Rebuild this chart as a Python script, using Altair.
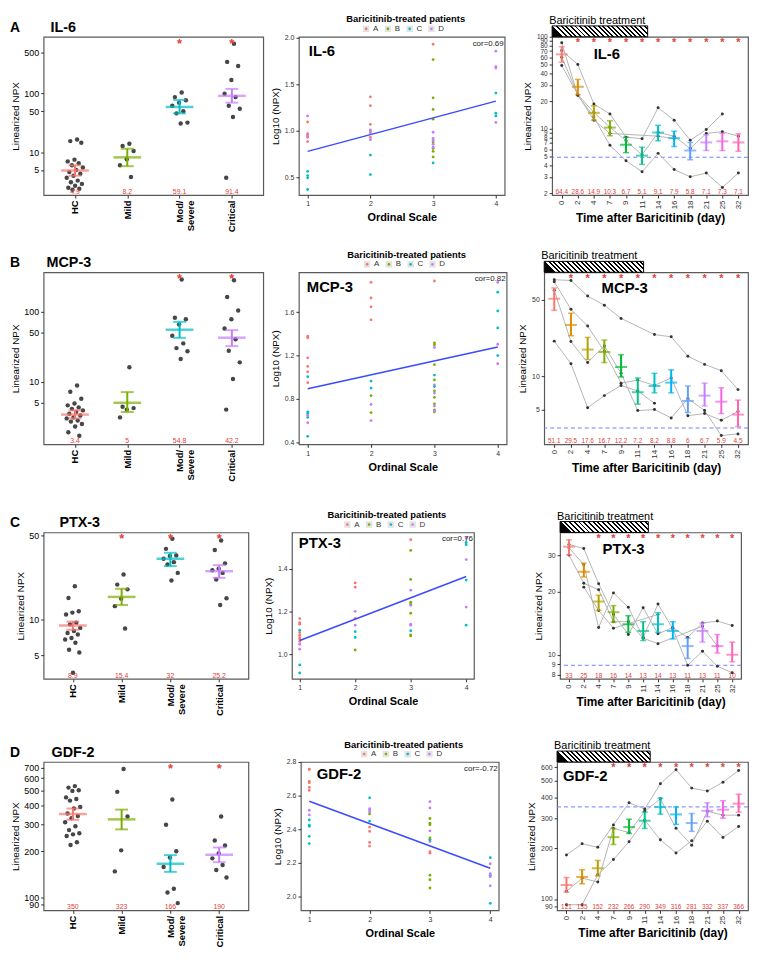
import altair as alt
import pandas as pd

FONT = "Liberation Sans"
RED = "#E2403C"

# ---------------- categories / palettes ----------------
GROUPS = ["HC", "Mild", "Mod/Severe", "Critical"]
GROUP_COLORS = ["#F8766D", "#7CAE00", "#00BFC4", "#C77CFF"]
PATIENTS = ["A", "B", "C", "D"]
PT_COLORS = ["#F8766D", "#7CAE00", "#00BFC4", "#C77CFF"]
DAYS = [0, 2, 4, 7, 9, 11, 14, 16, 18, 21, 25, 32]
DAY_COLORS = ["#F8766D", "#DE8C00", "#B79F00", "#7CAE00", "#00BA38", "#00C08B",
              "#00BFC4", "#00B4F0", "#619CFF", "#C77CFF", "#F564E3", "#FF64B0"]
TREAT_END = 5.35  # treatment bar ends between day 11 and day 14

# ---------------- IL-6 ----------------
IL6_HC = [16.5, 15.5, 14.5, 7.5, 7.0, 6.5, 6.0, 5.5, 5.0, 4.6, 4.3, 4.0, 3.7, 3.3, 3.1, 2.9, 2.7, 2.5, 2.4, 2.3]
IL6_MILD = [14.0, 12.8, 10.5, 7.6, 6.0, 3.8]
IL6_MODSEV = [104, 87, 77, 70, 62, 50, 46, 32, 31]
IL6_CRIT = [705, 346, 295, 170, 99, 87, 62, 55, 40, 3.7]
IL6_GRP_MEAN = [4.9, 8.2, 59.1, 91.4]
IL6_GRP_LO = [4.0, 5.8, 46, 70]
IL6_GRP_HI = [6.0, 11.5, 78, 120]
IL6_GRP_STAR = [False, False, True, True]
IL6_GRP_TICKS = [5, 10, 50, 100, 500]
IL6_GRP_DOMAIN = [1.87, 925]

IL6_SCATTER = [
    (1, "A", 1.095), (1, "A", 0.97), (1, "A", 0.955), (1, "A", 0.93), (1, "A", 0.885),
    (1, "D", 1.16), (1, "D", 0.94), (1, "C", 0.565), (1, "C", 0.52), (1, "C", 0.495), (1, "C", 0.37),
    (2, "A", 1.365), (2, "A", 1.27), (2, "A", 1.07), (2, "A", 0.93), (2, "B", 1.0),
    (2, "D", 1.01), (2, "D", 0.98), (2, "D", 0.905), (2, "C", 0.74), (2, "C", 0.53),
    (3, "A", 1.93), (3, "B", 1.765), (3, "B", 1.355), (3, "B", 1.23), (3, "B", 1.125), (3, "B", 0.875),
    (3, "B", 0.81), (3, "B", 0.78), (3, "B", 0.72), (3, "D", 0.985), (3, "D", 0.92), (3, "D", 0.9),
    (3, "D", 0.855), (3, "D", 0.825), (3, "C", 0.655),
    (4, "D", 1.855), (4, "D", 1.69), (4, "D", 1.675), (4, "D", 1.09),
    (4, "C", 1.405), (4, "C", 1.19), (4, "C", 1.16),
]
IL6_COR = "0.69"
IL6_SC_DOMAIN = [0.31, 2.01]
IL6_SC_TICKS = [0.5, 1.0, 1.5, 2.0]

IL6_TC_MEAN = [64.4, 28.6, 14.9, 10.3, 6.7, 5.1, 9.1, 7.9, 5.8, 7.1, 7.3, 7.1]
IL6_TC_LO = [53, 23.5, 12.4, 8.4, 5.5, 4.1, 7.4, 6.4, 4.6, 5.8, 5.8, 5.7]
IL6_TC_HI = [78, 34.4, 17.8, 12.2, 8.1, 6.3, 10.9, 9.4, 7.1, 8.6, 8.9, 8.8]
IL6_TC_P1 = [86, 23, 13.4, 6.6, 4.5, 3.4, 5.4, 3.6, 3.0, 3.3, 2.3, 3.3]
IL6_TC_P2 = [71, 50, 18.6, 14.5, 8.1, 7.8, 16.9, 12.4, 7.5, 9.8, 14.5, None]
IL6_TC_P3 = [60, 23.5, 15, 10.4, 7.4, 5.2, 9.1, 8.3, 6.1, 8.9, 9.3, 8.3]
IL6_TC_P4 = [48.6, 23.5, 12.4, 8.9, None, None, 8.3, 7.8, None, None, None, None]
IL6_TC_STAR_FROM = 1
IL6_HC_REF = 4.9
IL6_TC_TICKS = [2, 3, 4, 5, 6, 7, 8, 9, 10, 20, 30, 40, 50, 60, 70, 80, 90, 100]
IL6_TC_DOMAIN = [1.9, 100]

# ---------------- MCP-3 ----------------
MCP3_HC = [8.8, 7.2, 5.7, 4.9, 4.6, 4.3, 4.1, 3.9, 3.7, 3.5, 3.3, 3.1, 3.0, 2.8, 2.7, 2.5, 2.3, 1.9, 1.7]
MCP3_MILD = [16, 4.4, 4.2, 4.0, 3.1]
MCP3_MODSEV = [284, 81, 77, 65, 45, 35, 30, 27, 21]
MCP3_CRIT = [277, 160, 103, 77, 57, 40, 27.5, 18.8, 10.9, 4.0]
MCP3_GRP_MEAN = [3.4, 5, 54.8, 42.2]
MCP3_GRP_LO = [3.0, 3.7, 42, 32]
MCP3_GRP_HI = [3.9, 7.1, 71, 54]
MCP3_GRP_STAR = [False, False, True, True]
MCP3_GRP_TICKS = [5, 10, 50, 100]
MCP3_GRP_DOMAIN = [1.28, 360]

MCP3_SCATTER = [
    (1, "A", 1.38), (1, "A", 1.365), (1, "A", 1.18), (1, "A", 1.10), (1, "A", 1.05), (1, "A", 0.95),
    (1, "C", 1.005), (1, "C", 0.68), (1, "C", 0.665), (1, "C", 0.63), (1, "C", 0.455),
    (1, "D", 0.65), (1, "D", 0.58),
    (2, "A", 1.877), (2, "A", 1.732), (2, "A", 1.651), (2, "A", 1.531), (2, "C", 0.965), (2, "C", 0.9),
    (2, "B", 0.83), (2, "B", 0.674), (2, "D", 0.749), (2, "D", 0.6),
    (3, "A", 1.889), (3, "B", 1.317), (3, "B", 1.30), (3, "B", 1.116), (3, "B", 0.975), (3, "B", 0.875),
    (3, "B", 0.815), (3, "B", 0.755), (3, "B", 0.698), (3, "B", 0.68), (3, "D", 1.275), (3, "D", 0.93),
    (3, "D", 0.854), (3, "D", 0.734), (3, "D", 0.689), (3, "C", 1.02), (3, "C", 0.914),
    (4, "D", 1.877), (4, "D", 1.305), (4, "D", 1.125),
    (4, "C", 1.786), (4, "C", 1.612), (4, "C", 1.456), (4, "C", 1.2),
]
MCP3_COR = "0.82"
MCP3_SC_DOMAIN = [0.38, 1.97]
MCP3_SC_TICKS = [0.4, 0.8, 1.2, 1.6]

MCP3_TC_MEAN = [51.1, 29.5, 17.6, 16.7, 12.2, 7.2, 8.2, 8.8, 6, 6.7, 5.9, 4.5]
MCP3_TC_LO = [40, 23.5, 14.3, 13.4, 9.9, 5.6, 7.1, 7.1, 4.7, 5.4, 4.6, 3.5]
MCP3_TC_HI = [64, 37.7, 22.7, 21.5, 15.8, 9.7, 10.7, 11.5, 8.2, 8.7, 7.9, 6.1]
MCP3_TC_P1 = [76, 75, 54, 44.6, 33.8, None, 24.1, 23, 15.3, 12.9, 11.3, 7.6]
MCP3_TC_P2 = [72.8, 40.9, 28.8, 16.9, 8.7, 9.3, 8.3, 9.7, 4.4, 4.6, 4.0, 4.8]
MCP3_TC_P3 = [61, 20.8, 13.4, 19, 10.7, 4.9, 5.0, 4.2, 6.3, 4.9, 2.9, 3.0]
MCP3_TC_P4 = [21, 13.1, 5.2, 6.7, 8.3, 7.4, 5.7, None, None, None, None, None]
MCP3_TC_STAR_FROM = 1
MCP3_HC_REF = 3.4
MCP3_TC_TICKS = [5, 10, 50]
MCP3_TC_DOMAIN = [2.41, 89]

# ---------------- PTX-3 ----------------
PTX3_HC = [18.9, 15.1, 11.7, 11.4, 11.0, 9.4, 9.1, 8.5, 8.0, 7.7, 7.5, 7.0, 6.8, 6.4, 5.6, 5.3, 3.6]
PTX3_MILD = [23.7, 19.5, 17.8, 14.9, 12.9, 8.4]
PTX3_MODSEV = [46.9, 38.7, 34.1, 33.7, 32, 30, 28.7, 24.4, 21.1]
PTX3_CRIT = [45.4, 37.8, 29.3, 26.4, 25.7, 24.4, 21.5, 15, 13.2]
PTX3_GRP_MEAN = [8.9, 15.4, 32, 25.2]
PTX3_GRP_LO = [8.2, 13.2, 27.8, 22.2]
PTX3_GRP_HI = [9.6, 18, 35.9, 28.3]
PTX3_GRP_STAR = [False, True, True, True]
PTX3_GRP_TICKS = [5, 10, 50]
PTX3_GRP_DOMAIN = [3.2, 53]

PTX3_SCATTER = [
    (1, "A", 1.166), (1, "A", 1.147), (1, "A", 1.14), (1, "A", 1.101), (1, "A", 1.088), (1, "A", 1.077),
    (1, "A", 1.07), (1, "A", 1.059), (1, "C", 1.112), (1, "C", 0.949), (1, "C", 0.912),
    (1, "D", 1.046), (1, "D", 1.023),
    (2, "A", 1.333), (2, "A", 1.313), (2, "A", 1.167), (2, "D", 1.2), (2, "D", 1.135),
    (2, "C", 1.105), (2, "C", 1.078), (2, "B", 1.019),
    (3, "A", 1.535), (3, "B", 1.485), (3, "B", 1.349), (3, "B", 1.243), (3, "B", 1.233), (3, "B", 1.191),
    (3, "B", 1.09), (3, "B", 1.085), (3, "D", 1.299), (3, "D", 1.228), (3, "D", 1.14), (3, "D", 1.135),
    (3, "C", 1.109),
    (4, "D", 1.543), (4, "D", 1.442), (4, "D", 1.22),
    (4, "C", 1.522), (4, "C", 1.512), (4, "C", 1.346), (4, "C", 1.135),
]
PTX3_COR = "0.76"
PTX3_SC_DOMAIN = [0.884, 1.569]
PTX3_SC_TICKS = [1.0, 1.2, 1.4]

PTX3_TC_MEAN = [33, 25, 18, 16, 14, 13, 14, 13, 11, 13, 11, 10]
PTX3_TC_LO = [30.1, 23.6, 16.3, 14.3, 12.8, 11.7, 12.8, 11.9, 9.6, 11.5, 10.2, 9.25]
PTX3_TC_HI = [35.6, 27.5, 19.3, 17.2, 15.4, 14.4, 15.9, 14.4, 12.0, 14.2, 12.5, 11.5]
PTX3_TC_P1 = [33.8, 32.3, 21.9, 15.6, 12.5, 16.8, 12.6, 13.5, 12.1, 14.2, 14.5, 13.8]
PTX3_TC_P2 = [32.6, 27, 13.5, 19.8, 16.9, 12.1, 17.5, 13.3, 8.9, 10.4, 8.8, 8.2]
PTX3_TC_P3 = [30.1, 22, 20.5, 14.4, 14.4, 12, 11.3, None, None, 13.7, 11.0, None]
PTX3_TC_P4 = [None, 21.1, 16.3, 13.4, None, None, 15.6, None, None, None, None, None]
PTX3_TC_STAR_FROM = 2
PTX3_HC_REF = 8.9
PTX3_TC_TICKS = [8, 9, 10, 20, 30]
PTX3_TC_DOMAIN = [7.66, 38.6]

# ---------------- GDF-2 ----------------
GDF2_HC = [532, 520, 500, 495, 449, 438, 428, 389, 380, 353, 340, 329, 309, 291, 275, 262, 258, 252, 229, 220]
GDF2_MILD = [687, 488, 337, 203, 148]
GDF2_MODSEV = [435, 298, 200, 182, 158, 114, 108, 92]
GDF2_CRIT = [337, 235, 218, 194, 180, 163, 151, 135]
GDF2_GRP_MEAN = [350, 323, 166, 190]
GDF2_GRP_LO = [321, 278, 147, 170]
GDF2_GRP_HI = [380, 374, 189, 212]
GDF2_GRP_STAR = [False, False, True, True]
GDF2_GRP_TICKS = [90, 100, 200, 300, 400, 500, 600, 700]
GDF2_GRP_DOMAIN = [82.5, 764]

GDF2_SCATTER = [
    (1, "A", 2.758), (1, "A", 2.755), (1, "A", 2.685), (1, "A", 2.676), (1, "A", 2.649), (1, "A", 2.631),
    (1, "D", 2.513), (1, "D", 2.485), (1, "C", 2.455), (1, "C", 2.424), (1, "C", 2.418),
    (1, "C", 2.358), (1, "C", 2.315),
    (2, "C", 2.587), (2, "C", 2.449), (2, "D", 2.522), (2, "D", 2.515), (2, "D", 2.504), (2, "B", 2.491),
    (2, "A", 2.413), (2, "A", 2.387), (2, "A", 2.322), (2, "A", 2.30),
    (3, "D", 2.564), (3, "D", 2.527), (3, "D", 2.391), (3, "D", 2.327), (3, "B", 2.464), (3, "B", 2.436),
    (3, "B", 2.427), (3, "B", 2.349), (3, "B", 2.34), (3, "B", 2.127), (3, "B", 2.10), (3, "B", 2.051),
    (3, "C", 2.336), (3, "A", 2.267), (3, "A", 2.258),
    (4, "C", 2.231), (4, "C", 2.127), (4, "C", 1.96), (4, "D", 2.195), (4, "D", 2.136),
    (4, "D", 2.118), (4, "D", 2.064),
]
GDF2_COR = "-0.72"
GDF2_SC_DOMAIN = [1.918, 2.8]
GDF2_SC_TICKS = [2.0, 2.2, 2.4, 2.6, 2.8]

GDF2_TC_MEAN = [121, 135, 152, 232, 266, 290, 349, 316, 281, 332, 337, 366]
GDF2_TC_LO = [110, 123, 137, 210, 244, 261, 317, 276, 251, 306, 300, 326]
GDF2_TC_HI = [134, 149, 169, 261, 296, 326, 394, 350, 320, 370, 381, 416]
GDF2_TC_P1 = [182, 212, 202, 274, 370, 340, 480, 581, 452, 434, 490, 574]
GDF2_TC_P2 = [111, 133, 126, 261, 247, 330, 391, 262, 208, 330, 313, 313]
GDF2_TC_P3 = [92.5, 92.5, 139, 171, 218, 292, 224, 187, 221, 288, 231, 268]
GDF2_TC_P4 = [None] * 12
GDF2_TC_STAR_FROM = 3
GDF2_HC_REF = 350
GDF2_TC_TICKS = [90, 100, 200, 300, 400, 500, 600]
GDF2_TC_DOMAIN = [85.7, 645]

ONE = pd.DataFrame({"o": [0]})


def note(text, x, y, size, weight="normal", align="left", baseline="middle", color="black"):
    return alt.Chart(ONE).mark_text(
        text=text, fontSize=size, fontWeight=weight, align=align, baseline=baseline,
        color=color, font=FONT
    ).encode(x=alt.value(x), y=alt.value(y))


def frame(W, H, box):
    # invisible box that fixes the panel's layout bounds (left, top, right, bottom margins)
    L, T, R, B = box
    return alt.Chart(ONE).mark_rect(opacity=0).encode(
        x=alt.value(-L), x2=alt.value(W + R), y=alt.value(-T), y2=alt.value(H + B))


def fmt(v):
    return f"{v:g}"


def group_panel(title, letter, groups_pts, mean, lo, hi, stars, domain, ticks, W, H, tdx, box):
    rows = []
    for gi, vals in enumerate(groups_pts):
        for v in vals:
            rows.append({"g": gi, "v": v})
    pts = pd.DataFrame(rows)
    summ = pd.DataFrame({"g": list(range(4)), "grp": GROUPS, "mean": mean, "lo": lo, "hi": hi,
                         "label": [fmt(m) for m in mean], "star": stars})
    xs = alt.Scale(domain=[-0.6, 3.6], nice=False, zero=False)
    ys = alt.Scale(type="log", domain=domain, nice=False)
    lab = "datum.value == 2 ? ['Mod/', 'Severe'] : " + repr(GROUPS) + "[datum.value]"
    xaxis = alt.Axis(values=[0, 1, 2, 3], labelExpr=lab, labelAngle=-90, labelFontSize=9.5,
                     labelFontWeight="bold", labelColor="black", title=None, tickSize=3,
                     labelPadding=2, grid=False, domain=False)
    yaxis = alt.Axis(values=ticks, format="d", title="Linearized NPX", titleFontSize=10,
                     titleFontWeight="normal", labelFontSize=9, labelColor="black", tickSize=3,
                     labelPadding=2, titlePadding=3, grid=False, domain=False, labelOverlap=False)
    color = alt.Color("grp:N", scale=alt.Scale(domain=GROUPS, range=GROUP_COLORS), legend=None)

    def X(f):
        return alt.X(f, scale=xs, axis=xaxis)

    def Y(f):
        return alt.Y(f, scale=ys, axis=yaxis)

    points = alt.Chart(pts).transform_window(
        rank="row_number()", groupby=["g"]
    ).transform_calculate(
        jx="datum.g + ((datum.rank * 0.618034) % 1 - 0.5) * 0.34"
    ).mark_circle(size=20, color="#3c3c3c", opacity=0.95).encode(x=X("jx:Q"), y=Y("v:Q"))
    err = alt.Chart(summ).mark_rule(strokeWidth=2).encode(
        x=X("g:Q"), y=Y("lo:Q"), y2="hi:Q", color=color)
    mean_l = alt.Chart(summ).mark_tick(orient="horizontal", size=28, thickness=2.5).encode(
        x=X("g:Q"), y=Y("mean:Q"), color=color)
    caps = alt.Chart(summ).transform_fold(["lo", "hi"], as_=["k", "cap"]).mark_tick(
        orient="horizontal", size=13, thickness=2).encode(x=X("g:Q"), y=Y("cap:Q"), color=color)
    labels = alt.Chart(summ).mark_text(color=RED, fontSize=7, baseline="alphabetic").encode(
        x=X("g:Q"), y=alt.value(H - 1), text="label:N")
    star = alt.Chart(summ).transform_filter("datum.star").mark_text(
        text="*", color=RED, fontSize=13, fontWeight="bold", baseline="top").encode(
        x=X("g:Q"), y=alt.value(1))
    t1 = note(title, tdx, -5, 14.5, "bold", baseline="alphabetic")
    t2 = note(letter, -34, -5, 14, "bold", baseline="alphabetic")
    return alt.layer(points, err, mean_l, caps, labels, star, t1, t2,
                     frame(W, H, box)).properties(width=W, height=H)


def scatter_panel(title, data, cor, domain, ticks, W, H, tdx, tdy, box):
    df = pd.DataFrame(data, columns=["os", "pt", "lv"])
    xs = alt.Scale(domain=[0.86, 4.14], nice=False, zero=False)
    ys = alt.Scale(domain=domain, nice=False, zero=False)
    xaxis = alt.Axis(values=[1, 2, 3, 4], format="d", title="Ordinal Scale", titleFontSize=11,
                     titleFontWeight="bold", labelFontSize=7, labelColor="#333", tickSize=3,
                     labelPadding=2, titlePadding=5, grid=False, domain=False)
    yaxis = alt.Axis(values=ticks, format=".1f", title="Log10 (NPX)", titleFontSize=10,
                     titleFontWeight="normal", labelFontSize=7, labelColor="#333", tickSize=3,
                     labelPadding=2, titlePadding=4, grid=False, domain=False, labelOverlap=False)
    color = alt.Color("pt:N", scale=alt.Scale(domain=PATIENTS, range=PT_COLORS), legend=None)
    pts = alt.Chart(df).mark_circle(size=8, opacity=1).encode(
        x=alt.X("os:Q", scale=xs, axis=xaxis), y=alt.Y("lv:Q", scale=ys, axis=yaxis), color=color)
    reg = alt.Chart(df).transform_regression("os", "lv").mark_line(
        color="#3A4BFF", strokeWidth=1.5).encode(
        x=alt.X("os:Q", scale=xs, axis=xaxis), y=alt.Y("lv:Q", scale=ys, axis=yaxis))
    leg = pd.DataFrame({"pt": PATIENTS})
    kx = f"{W / 2 - 36} + indexof({PATIENTS!r}, datum.pt) * 22"
    keys = alt.Chart(leg).transform_calculate(kx=kx).mark_square(
        size=42, color="#E3E3E3", opacity=1).encode(x=alt.X("kx:Q", scale=None), y=alt.value(-8))
    kdots = alt.Chart(leg).transform_calculate(kx=kx).mark_circle(size=7, opacity=1).encode(
        x=alt.X("kx:Q", scale=None), y=alt.value(-8), color=color)
    ktext = alt.Chart(leg).transform_calculate(kx=kx + " + 7").mark_text(
        fontSize=8, align="left", baseline="middle", color="#333").encode(
        x=alt.X("kx:Q", scale=None), y=alt.value(-8), text="pt:N")
    ltitle = note("Baricitinib-treated patients", W / 2 + 4, -17.5, 9.5, "bold", align="center")
    t = note(title, tdx, tdy, 15, "bold")
    c = note(f"cor={cor}", W - 1, 7, 8, align="right", color="#222")
    return alt.layer(pts, reg, keys, kdots, ktext, ltitle, t, c,
                     frame(W, H, box)).properties(width=W, height=H)


def tc_panel(title, patients, mean, lo, hi, star_from, ref, domain, ticks, W, H, tdx, tdy, box,
             ylab_size=7):
    rows = []
    for pi, series in enumerate(patients):
        for i, v in enumerate(series):
            if v is not None:
                rows.append({"i": i, "p": pi, "v": v})
    pdf = pd.DataFrame(rows)
    dlab = [str(d) for d in DAYS]
    summ = pd.DataFrame({"i": list(range(12)), "d": dlab, "mean": mean, "lo": lo, "hi": hi,
                         "label": [fmt(m) for m in mean], "star": [i >= star_from for i in range(12)]})
    xs = alt.Scale(domain=[-0.6, 11.6], nice=False, zero=False)
    ys = alt.Scale(type="log", domain=domain, nice=False)
    xaxis = alt.Axis(values=list(range(12)), labelExpr=repr(dlab) + "[datum.value]", labelAngle=-90,
                     labelFontSize=8, labelColor="#333", title="Time after Baricitinib (day)",
                     titleFontSize=12, titleFontWeight="bold", tickSize=3, labelPadding=2,
                     titlePadding=4, grid=False, domain=False)
    yaxis = alt.Axis(values=ticks, format="d", title="Linearized NPX", titleFontSize=10,
                     titleFontWeight="normal", labelFontSize=ylab_size, labelColor="#333", tickSize=3,
                     labelPadding=2, titlePadding=4, grid=False, domain=False, labelOverlap=False)
    color = alt.Color("d:N", scale=alt.Scale(domain=dlab, range=DAY_COLORS), legend=None)

    def X(f):
        return alt.X(f, scale=xs, axis=xaxis)

    def Y(f):
        return alt.Y(f, scale=ys, axis=yaxis)

    refl = alt.Chart(pd.DataFrame({"ref": [ref]})).mark_rule(
        strokeDash=[4, 3], color="#6F7FFF", strokeWidth=1).encode(y=Y("ref:Q"))
    lines = alt.Chart(pdf).mark_line(color="#B5B5B5", strokeWidth=1).encode(
        x=X("i:Q"), y=Y("v:Q"), detail="p:N")
    dots = alt.Chart(pdf).mark_circle(size=9, color="#333", opacity=1).encode(x=X("i:Q"), y=Y("v:Q"))
    err = alt.Chart(summ).mark_rule(strokeWidth=2).encode(
        x=X("i:Q"), y=Y("lo:Q"), y2="hi:Q", color=color)
    mean_l = alt.Chart(summ).mark_tick(orient="horizontal", size=12, thickness=2).encode(
        x=X("i:Q"), y=Y("mean:Q"), color=color)
    caps = alt.Chart(summ).transform_fold(["lo", "hi"], as_=["k", "cap"]).mark_tick(
        orient="horizontal", size=6, thickness=1.5).encode(x=X("i:Q"), y=Y("cap:Q"), color=color)
    labels = alt.Chart(summ).mark_text(color=RED, fontSize=6.5, baseline="alphabetic").encode(
        x=X("i:Q"), y=alt.value(H - 1), text="label:N")
    star = alt.Chart(summ).transform_filter("datum.star").mark_text(
        text="*", color=RED, fontSize=11, fontWeight="bold", baseline="top").encode(
        x=X("i:Q"), y=alt.value(0.5))

    bar_w = (TREAT_END + 0.6) / 12.2 * W
    bar_h = 11.0
    n = max(1, int(round(bar_w / 4.6)))
    stops = []
    for k in range(n):
        a, b, c = k / n, (k + 0.42) / n, (k + 1) / n
        stops += [{"offset": a, "color": "black"}, {"offset": b, "color": "black"},
                  {"offset": b, "color": "white"}, {"offset": c, "color": "white"}]
    grad = {"gradient": "linear", "x1": 0, "y1": bar_h / bar_w, "x2": 1, "y2": 0, "stops": stops}
    hatch = alt.Chart(pd.DataFrame({"s": [-0.6], "e": [TREAT_END]})).mark_rect(
        fill=grad, stroke="black", strokeWidth=1).encode(
        x=X("s:Q"), x2="e:Q", y=alt.value(-bar_h), y2=alt.value(0))
    ttext = note("Baricitinib treatment", -3, -16, 11)
    t = note(title, tdx, tdy, 15, "bold")
    return alt.layer(refl, lines, dots, err, mean_l, caps, labels, star, hatch, ttext, t,
                     frame(W, H, box)).properties(width=W, height=H)


def row(p1, p2, p3):
    return alt.hconcat(p1, p2, p3, spacing=0).resolve_scale(color="independent")


# layout: (left, top, right, bottom) invisible margins for each panel
rowA = row(
    group_panel("IL-6", "A", [IL6_HC, IL6_MILD, IL6_MODSEV, IL6_CRIT], IL6_GRP_MEAN, IL6_GRP_LO,
                IL6_GRP_HI, IL6_GRP_STAR, IL6_GRP_DOMAIN, IL6_GRP_TICKS, 222, 160, 7, (35, 17, 1, 40)),
    scatter_panel("IL-6", IL6_SCATTER, IL6_COR, IL6_SC_DOMAIN, IL6_SC_TICKS, 208, 160, 10, 14,
                  (33, 17, 1, 40)),
    tc_panel("IL-6", [IL6_TC_P1, IL6_TC_P2, IL6_TC_P3, IL6_TC_P4], IL6_TC_MEAN, IL6_TC_LO, IL6_TC_HI,
             IL6_TC_STAR_FROM, IL6_HC_REF, IL6_TC_DOMAIN, IL6_TC_TICKS, 198, 160, 42, 17,
             (45, 17, 1, 40), ylab_size=6.5))

rowB = row(
    group_panel("MCP-3", "B", [MCP3_HC, MCP3_MILD, MCP3_MODSEV, MCP3_CRIT], MCP3_GRP_MEAN, MCP3_GRP_LO,
                MCP3_GRP_HI, MCP3_GRP_STAR, MCP3_GRP_DOMAIN, MCP3_GRP_TICKS, 222, 174, 3, (35, 36, 1, 40)),
    scatter_panel("MCP-3", MCP3_SCATTER, MCP3_COR, MCP3_SC_DOMAIN, MCP3_SC_TICKS, 210, 174, 8, 15,
                  (33, 36, 1, 40)),
    tc_panel("MCP-3", [MCP3_TC_P1, MCP3_TC_P2, MCP3_TC_P3, MCP3_TC_P4], MCP3_TC_MEAN, MCP3_TC_LO,
             MCP3_TC_HI, MCP3_TC_STAR_FROM, MCP3_HC_REF, MCP3_TC_DOMAIN, MCP3_TC_TICKS, 206, 174, 58, 16,
             (35, 36, 1, 40)))

rowC = row(
    group_panel("PTX-3", "C", [PTX3_HC, PTX3_MILD, PTX3_MODSEV, PTX3_CRIT], PTX3_GRP_MEAN, PTX3_GRP_LO,
                PTX3_GRP_HI, PTX3_GRP_STAR, PTX3_GRP_DOMAIN, PTX3_GRP_TICKS, 207, 148, 16, (35, 47, 1, 40)),
    scatter_panel("PTX-3", PTX3_SCATTER, PTX3_COR, PTX3_SC_DOMAIN, PTX3_SC_TICKS, 184, 148, 7, 11,
                  (41, 47, 1, 40)),
    tc_panel("PTX-3", [PTX3_TC_P1, PTX3_TC_P2, PTX3_TC_P3, PTX3_TC_P4], PTX3_TC_MEAN, PTX3_TC_LO,
             PTX3_TC_HI, PTX3_TC_STAR_FROM, PTX3_HC_REF, PTX3_TC_DOMAIN, PTX3_TC_TICKS, 183, 148, 43, 17,
             (84, 47, 1, 40)))

rowD = row(
    group_panel("GDF-2", "D", [GDF2_HC, GDF2_MILD, GDF2_MODSEV, GDF2_CRIT], GDF2_GRP_MEAN, GDF2_GRP_LO,
                GDF2_GRP_HI, GDF2_GRP_STAR, GDF2_GRP_DOMAIN, GDF2_GRP_TICKS, 207, 150, 8, (35, 42, 1, 38)),
    scatter_panel("GDF-2", GDF2_SCATTER, GDF2_COR, GDF2_SC_DOMAIN, GDF2_SC_TICKS, 200, 150, 16, 12,
                  (50, 42, 1, 38)),
    tc_panel("GDF-2", [GDF2_TC_P1, GDF2_TC_P2, GDF2_TC_P3, GDF2_TC_P4], GDF2_TC_MEAN, GDF2_TC_LO,
             GDF2_TC_HI, GDF2_TC_STAR_FROM, GDF2_HC_REF, GDF2_TC_DOMAIN, GDF2_TC_TICKS, 193, 150, 6, 14,
             (56, 42, 1, 38)))

chart = alt.vconcat(rowA, rowB, rowC, rowD, spacing=0).resolve_scale(
    color="independent"
).properties(padding=0).configure(
    font=FONT
).configure_view(
    stroke="#5A5A5A", strokeWidth=1.2
).configure_axis(
    grid=False, domain=False, tickColor="#333333", labelFont=FONT, titleFont=FONT, titleColor="black"
).configure_text(font=FONT)

chart.save("out.html", embed_options={"renderer": "svg", "actions": False})
